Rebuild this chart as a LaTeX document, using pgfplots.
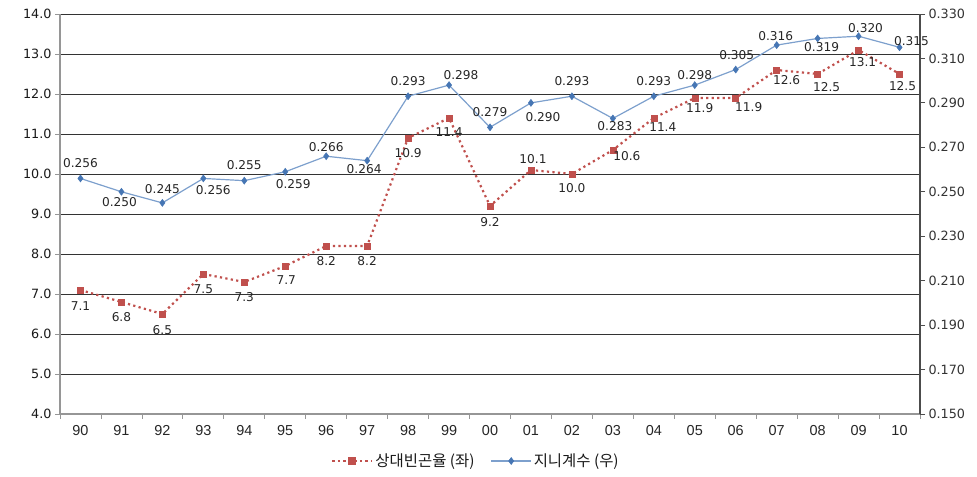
\documentclass[border=0pt]{standalone}
\usepackage{pgfplots}
\pgfplotsset{compat=1.18}
\usepackage{pgfplotstable}
\usepackage{fontspec}
\setmainfont{Liberation Sans}
\newfontfamily\dv{DejaVu Sans}
\newfontfamily\kr{Noto Sans CJK KR}
\definecolor{povred}{RGB}{192,80,77}
\definecolor{giniblue}{RGB}{70,118,180}
\definecolor{giniline}{RGB}{125,160,205}
\definecolor{axgray}{RGB}{150,150,150}

\pgfplotstableread{
x pov pdx pdy gini gdx gdy
0 7.1 0 -16 0.256 0 15
1 6.8 0 -15 0.250 -2 -10
2 6.5 0 -16 0.245 0 14
3 7.5 0 -15 0.256 10 -12
4 7.3 0 -15 0.255 0 16
5 7.7 1 -14 0.259 8 -12
6 8.2 0 -15 0.266 0 9
7 8.2 0 -15 0.264 -3 -8
8 10.9 0 -15 0.293 0 15
9 11.4 0 -14 0.298 12 10
10 9.2 0 -16 0.279 0 15
11 10.1 2 11 0.290 12 -14
12 10.0 0 -14 0.293 0 15
13 10.6 14 -6 0.283 2 -8
14 11.4 9 -9 0.293 0 15
15 11.9 5 -10 0.298 0 10
16 11.9 13 -9 0.305 1 14
17 12.6 10 -10 0.316 -1 9
18 12.5 9 -13 0.319 4 -9
19 13.1 4 -12 0.320 7 8
20 12.5 3 -12 0.315 12 6
}\datatable

\pgfplotsset{
  common/.style={
    at={(60bp,63bp)}, anchor=south west,
    scale only axis, width=860bp, height=400bp,
    xmin=-0.5, xmax=20.5, clip=false,
    tick align=outside,
    major tick length=5bp, minor tick length=5bp,
    /pgf/number format/assume math mode=true,
  },
}

\begin{document}
\begin{tikzpicture}
\path[use as bounding box] (0,0) rectangle (977bp,477bp);
\begin{axis}[common,
  ymin=4, ymax=14, ytick={4,5,...,14},
  axis y line*=left, axis x line*=bottom,
  axis line style={draw=axgray, line width=1.2bp, -},
  ymajorgrids, grid style={draw=black!80, line width=0.9bp},
  xtick={0,...,20},
  xticklabels={90,91,92,93,94,95,96,97,98,99,00,01,02,03,04,05,06,07,08,09,10},
  xtick style={draw=none},
  minor xtick={-0.5,0.5,...,20.5},
  minor x tick style={draw=axgray, line width=0.8bp},
  ytick style={draw=axgray, line width=0.8bp},
  xticklabel style={font=\fontsize{14.5}{16}\selectfont, text=black!85, yshift=-3bp},
  yticklabel style={font=\dv\fontsize{12.8}{14}\selectfont, text=black!90,
    /pgf/number format/.cd, fixed, zerofill, precision=1},
  ]
\addplot[draw=povred, line width=2.2bp, dash pattern=on 2.2bp off 3.3bp,
  mark=square*, mark size=3bp, mark options={solid, fill=povred, draw=povred, line width=0.5bp},
  point meta=explicit,
  nodes near coords={\pgfmathprintnumber[fixed,zerofill,precision=1]{\pgfplotspointmeta}},
  visualization depends on={\thisrow{pdx}\as\pdx},
  visualization depends on={\thisrow{pdy}\as\pdy},
  every node near coord/.append style={anchor=center, xshift=\pdx bp, yshift=\pdy bp,
    font=\dv\fontsize{12.2}{13}\selectfont, text=black!85, inner sep=0pt},
  ] table[x=x, y=pov, meta=pov] {\datatable};
\end{axis}
\begin{axis}[common,
  ymin=0.15, ymax=0.33,
  ytick={0.15,0.17,0.19,0.21,0.23,0.25,0.27,0.29,0.31,0.33},
  axis y line*=right, axis x line=none,
  axis line style={draw=black!70, line width=1.1bp, -},
  ytick style={draw=black!70, line width=0.8bp},
  yticklabel style={font=\dv\fontsize{12.8}{14}\selectfont, text=black!80,
    /pgf/number format/.cd, fixed, zerofill, precision=3},
  legend style={at={(0.4837,-0.1175)}, anchor=center, draw=none, fill=none,
    legend columns=2, font=\kr\fontsize{15.5}{18}\selectfont, text=black!90,
    /tikz/every even column/.append style={column sep=14bp}},
  legend image code/.code={\draw[mark repeat=2, mark phase=2, #1]
    plot coordinates {(0bp,0bp) (20bp,0bp) (40bp,0bp)};},
  ]
\addlegendimage{draw=povred, line width=2.2bp, dash pattern=on 2.2bp off 3.3bp,
  mark=square*, mark size=3bp, mark options={solid, fill=povred, draw=povred}}
\addlegendentry{상대빈곤율 (좌)}
\addplot[draw=giniline, line width=1.2bp,
  mark=diamond*, mark size=3.5bp, mark options={fill=giniblue, draw=giniblue, line width=0.5bp},
  point meta=explicit,
  nodes near coords={\pgfmathprintnumber[fixed,zerofill,precision=3]{\pgfplotspointmeta}},
  visualization depends on={\thisrow{gdx}\as\gdx},
  visualization depends on={\thisrow{gdy}\as\gdy},
  every node near coord/.append style={anchor=center, xshift=\gdx bp, yshift=\gdy bp,
    font=\dv\fontsize{12.2}{13}\selectfont, text=black!85, inner sep=0pt},
  ] table[x=x, y=gini, meta=gini] {\datatable};
\addlegendentry{지니계수 (우)}
\end{axis}
\end{tikzpicture}
\end{document}
